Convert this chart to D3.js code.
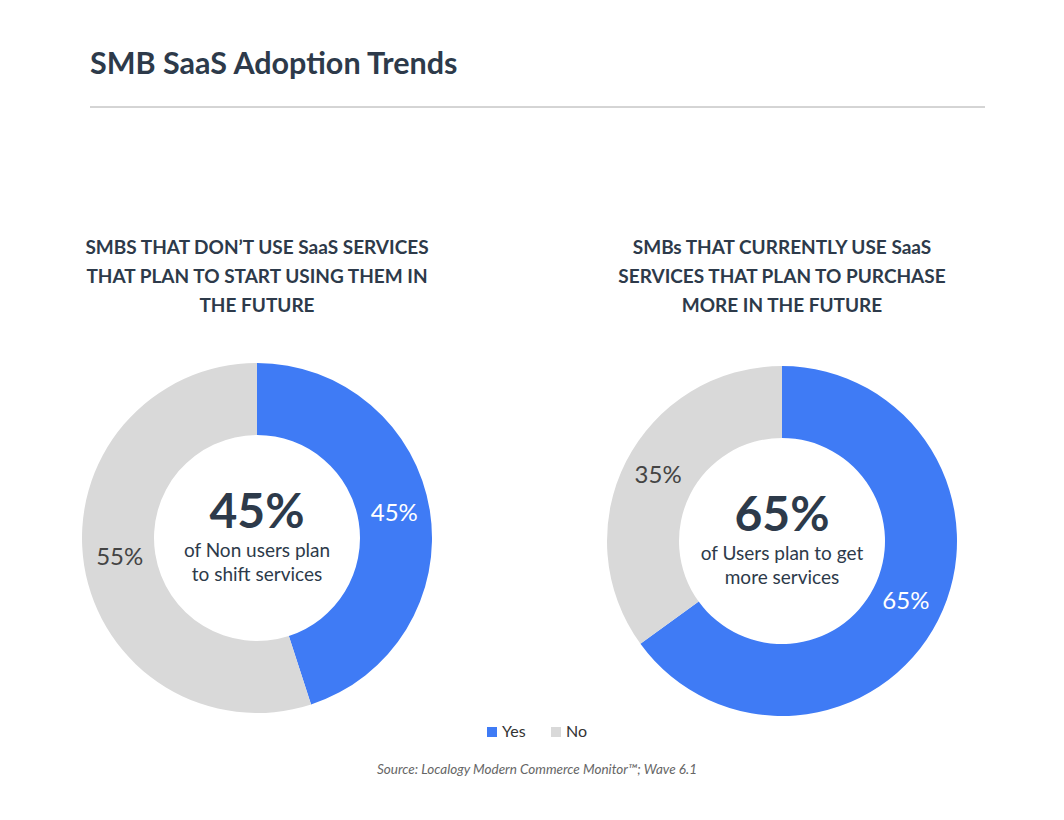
<!DOCTYPE html>
<html>
<head>
  <script src="https://d3js.org/d3.v7.min.js"></script>
  <style>
    body { margin: 0; background: #fff; font-family: Lato, "Open Sans", sans-serif; }
  </style>
</head>
<body>
<div id="chart"></div>
<script>
  var charts = [
    { cx: 257, cy: 538, title: ['SMBS THAT DON\u2019T USE SaaS SERVICES', 'THAT PLAN TO START USING THEM IN', 'THE FUTURE'],
      big: '45%', sub: ['of Non users plan', 'to shift services'],
      values: [{ label: 'Yes', value: 45 }, { label: 'No', value: 55 }] },
    { cx: 782, cy: 541, title: ['SMBs THAT CURRENTLY USE SaaS', 'SERVICES THAT PLAN TO PURCHASE', 'MORE IN THE FUTURE'],
      big: '65%', sub: ['of Users plan to get', 'more services'],
      values: [{ label: 'Yes', value: 65 }, { label: 'No', value: 35 }] }
  ];

  var colors = { Yes: '#3f7bf5', No: '#d9d9d9' };
  var dark = '#2d3a4a';

  var svg = d3.select('#chart').append('svg')
    .attr('width', 1064).attr('height', 820);

  svg.append('text').attr('x', 90).attr('y', 74)
    .attr('font-size', 30.5).attr('font-weight', 'bold').attr('fill', dark)
    .text('SMB SaaS Adoption Trends');
  svg.append('line').attr('x1', 90).attr('x2', 985).attr('y1', 107).attr('y2', 107)
    .attr('stroke', '#aaa').attr('stroke-width', 1);

  var outerR = 175, innerR = 103;
  var pie = d3.pie().sort(null).value(function(d) { return d.value; });
  var arc = d3.arc().innerRadius(innerR).outerRadius(outerR);
  var labelArc = d3.arc().innerRadius(139).outerRadius(139);

  charts.forEach(function(c) {
    svg.append('text').attr('x', c.cx).attr('y', 254)
      .attr('text-anchor', 'middle').attr('font-size', 19).attr('font-weight', 'bold').attr('fill', dark)
      .selectAll('tspan').data(c.title).enter().append('tspan')
      .attr('x', c.cx).attr('dy', function(d, i) { return i ? 29 : 0; })
      .text(function(d) { return d; });

    var g = svg.append('g').attr('transform', 'translate(' + c.cx + ',' + c.cy + ')');
    var arcs = g.selectAll('.arc').data(pie(c.values)).enter().append('g');
    arcs.append('path').attr('d', arc).attr('fill', function(d) { return colors[d.data.label]; });
    arcs.append('text')
      .attr('transform', function(d) { return 'translate(' + labelArc.centroid(d) + ')'; })
      .attr('text-anchor', 'middle').attr('dy', '0.2em').attr('font-size', 24)
      .attr('fill', function(d) { return d.data.label === 'Yes' ? '#fff' : '#444'; })
      .text(function(d) { return d.data.value + '%'; });

    g.append('text').attr('y', -10).attr('text-anchor', 'middle')
      .attr('font-size', 48).attr('font-weight', 'bold').attr('fill', dark).text(c.big);
    g.append('text').attr('y', 19).attr('text-anchor', 'middle').attr('font-size', 19).attr('fill', dark)
      .selectAll('tspan').data(c.sub).enter().append('tspan')
      .attr('x', 0).attr('dy', function(d, i) { return i ? 24 : 0; })
      .text(function(d) { return d; });
  });

  var legend = svg.append('g');
  [['Yes', 487], ['No', 551]].forEach(function(l) {
    legend.append('rect').attr('x', l[1]).attr('y', 727).attr('width', 10).attr('height', 10).attr('fill', colors[l[0]]);
    legend.append('text').attr('x', l[1] + 15).attr('y', 737).attr('font-size', 16).attr('fill', '#333').text(l[0]);
  });

  svg.append('text').attr('x', 537).attr('y', 774).attr('text-anchor', 'middle')
    .attr('font-size', 13.5).attr('font-style', 'italic').attr('fill', '#666')
    .text('Source: Localogy Modern Commerce Monitor\u2122; Wave 6.1');
</script>
</body>
</html>
